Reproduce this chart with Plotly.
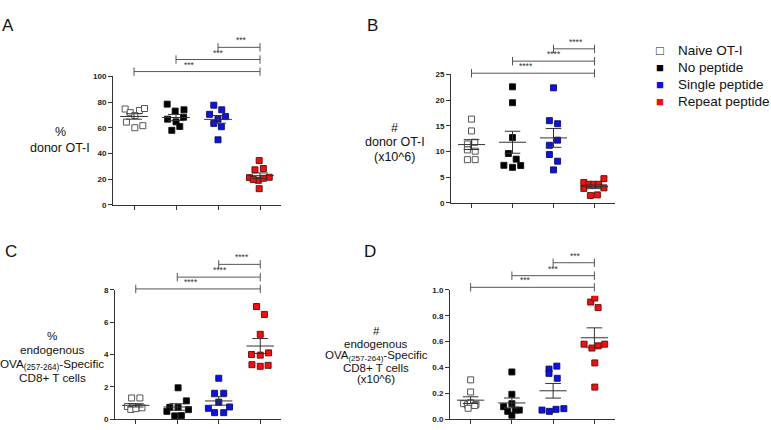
import numpy as np
import plotly.graph_objects as go

W, H = 771, 430

groups = ["Naive OT-I", "No peptide", "Single peptide", "Repeat peptide"]

# values per group (Naive, No peptide, Single, Repeat) and the horizontal scatter of each dot
a_vals = [[74.6, 71.8, 73.5, 75.0, 69.5, 64.4, 60.0, 61.6],
          [78.4, 73.0, 74.0, 66.7, 64.6, 68.2, 58.0, 61.0],
          [77.6, 70.5, 74.0, 68.7, 66.7, 63.4, 60.8, 50.6],
          [34.4, 27.2, 28.2, 21.1, 21.4, 19.0, 20.6, 19.6, 12.5]]
a_jit = [[-0.21, -0.09, 0.13, 0.25, 0.02, -0.18, 0.02, 0.21],
         [-0.21, -0.02, 0.19, -0.20, 0.00, 0.18, -0.10, 0.09],
         [-0.10, -0.20, 0.09, 0.18, 0.00, -0.10, 0.08, 0.00],
         [-0.02, -0.12, 0.08, -0.25, 0.22, -0.04, 0.08, -0.16, -0.02]]

b_vals = [[16.3, 14.0, 11.45, 11.8, 10.3, 10.05, 8.4, 8.4],
          [22.6, 19.5, 12.7, 9.6, 8.5, 7.3, 6.9, 7.25],
          [22.4, 16.0, 15.4, 12.2, 11.2, 9.4, 8.1, 6.4],
          [3.95, 3.6, 3.6, 3.6, 4.7, 2.8, 2.9, 1.4, 1.53]]
b_jit = [[0.0, 0.0, -0.10, 0.08, -0.10, 0.09, -0.10, 0.09],
         [0.0, 0.0, 0.0, -0.10, 0.09, -0.21, 0.0, 0.20],
         [0.0, -0.10, 0.10, 0.10, -0.10, -0.10, 0.10, 0.0],
         [-0.26, -0.14, -0.02, 0.10, 0.23, -0.26, 0.23, -0.10, 0.07]]

c_vals = [[1.31, 1.31, 0.78, 0.75, 0.72, 0.70, 0.60, 0.65],
          [1.94, 1.13, 0.73, 0.73, 0.59, 0.48, 0.20, 0.22],
          [2.53, 1.60, 1.60, 1.05, 0.67, 0.75, 0.40, 0.40],
          [6.97, 6.48, 5.25, 4.00, 3.96, 4.10, 3.37, 3.27, 3.33]]
c_jit = [[-0.10, 0.10, -0.20, -0.07, 0.05, 0.15, -0.12, 0.0],
         [0.02, 0.22, -0.18, 0.02, 0.27, -0.25, -0.06, 0.10],
         [0.0, -0.10, 0.12, 0.0, -0.25, 0.26, -0.10, 0.12],
         [-0.09, 0.10, 0.0, -0.21, 0.0, 0.20, -0.20, 0.0, 0.19]]

d_vals = [[0.304, 0.21, 0.12, 0.11, 0.127, 0.114, 0.084, 0.105],
          [0.365, 0.192, 0.096, 0.119, 0.07, 0.07, 0.06, 0.03],
          [0.41, 0.387, 0.354, 0.316, 0.07, 0.06, 0.076, 0.081],
          [0.906, 0.937, 0.863, 0.58, 0.55, 0.567, 0.58, 0.435, 0.248]]
d_jit = [[0.0, 0.0, -0.17, -0.08, 0.0, 0.13, -0.06, 0.10],
         [0.0, 0.0, -0.20, 0.0, 0.09, 0.18, -0.10, 0.0],
         [0.09, -0.10, -0.10, 0.10, -0.27, -0.09, 0.07, 0.26],
         [-0.09, 0.01, 0.09, -0.25, -0.06, 0.09, 0.25, 0.01, 0.01]]

# significance comparisons (group index pairs) and labels
pairs = [(0, 3), (1, 3), (2, 3)]
a_stars = ["***", "***", "***"]
b_stars = ["****", "****", "****"]
c_stars = ["****", "****", "****"]
d_stars = ["***", "***", "***"]
star_x = [1.32, 2.02, 2.55]  # where the star labels sit along each bracket

a_ticks = [0, 20, 40, 60, 80, 100]
b_ticks = [0, 5, 10, 15, 20, 25]
c_ticks = [0, 2, 4, 6, 8]
d_ticks = [0.0, 0.2, 0.4, 0.6, 0.8, 1.0]

fills = ["white", "black", "#0a10f0", "#ff0a0a"]
edges = ["#444444", "#111111", "#101060", "#501010"]
FONT = "Liberation Sans, Arial, sans-serif"

panels = [
    dict(letter="A", vals=a_vals, jit=a_jit, stars=a_stars, ticks=a_ticks, fmt="",
         xpx=(113, 281), y0=205, ppu=1.31, levels=[103.8, 113.2, 122.7], top=130,
         lx=8, ly=22, tx=60, fs=12.5,
         title=[("%", 131), ("donor OT-I", 147)]),
    dict(letter="B", vals=b_vals, jit=b_jit, stars=b_stars, ticks=b_ticks, fmt="",
         xpx=(451, 615), y0=203, ppu=5.24, levels=[25.25, 27.6, 30.0], top=31.6,
         lx=372, ly=22, tx=395, fs=12.5,
         title=[("#", 127), ("donor OT-I", 141), ("(x10^6)", 156)]),
    dict(letter="C", vals=c_vals, jit=c_jit, stars=c_stars, ticks=c_ticks, fmt="",
         xpx=(115, 281), y0=424, ppu=16.5, levels=[8.06, 8.79, 9.58], top=10.1,
         lx=11, ly=253, tx=52, fs=11.7,
         title=[("%", 339), ("endogenous", 353),
                ("OVA<sub>(257-264)</sub>-Specific", 368), ("CD8+ T cells", 381)]),
    dict(letter="D", vals=d_vals, jit=d_jit, stars=d_stars, ticks=d_ticks, fmt=".1f",
         xpx=(450, 615), y0=424, ppu=132, levels=[1.02, 1.11, 1.21], top=1.27,
         lx=370, ly=253, tx=376, fs=11.5,
         title=[("#", 334), ("endogenous", 347),
                ("OVA<sub>(257-264)</sub>-Specific", 360), ("CD8+ T cells", 372),
                ("(x10^6)", 383)]),
]


def px(x):
    return x / W


def py(y):
    return 1 - y / H


fig = go.Figure()
layout = dict(width=W, height=H, margin=dict(l=0, r=0, t=0, b=0),
              plot_bgcolor="white", paper_bgcolor="white", showlegend=False,
              font=dict(family=FONT, color="#111"))
annotations = []


def ax_id(n):
    return ("x" if n == 1 else f"x{n}"), ("y" if n == 1 else f"y{n}")


for i, p in enumerate(panels):
    n, m = 2 * i + 1, 2 * i + 2
    xa, ya = ax_id(n)
    xb, yb = ax_id(m)
    xdom = [px(p["xpx"][0]), px(p["xpx"][1])]
    ymax = p["ticks"][-1]
    ydom = [py(p["y0"]), py(p["y0"] - ymax * p["ppu"])]
    lo = ymax - 6 / p["ppu"]
    bdom = [py(p["y0"] - lo * p["ppu"]), py(p["y0"] - p["top"] * p["ppu"])]

    layout["xaxis" + ("" if n == 1 else str(n))] = dict(
        domain=xdom, range=[-0.5, 3.5], anchor=ya, showline=True, linecolor="#333",
        linewidth=1, ticks="outside", tickvals=[0, 1, 2, 3], ticklen=4, tickcolor="#333",
        showticklabels=False, showgrid=False, zeroline=False, fixedrange=True)
    layout["yaxis" + ("" if n == 1 else str(n))] = dict(
        domain=ydom, range=[0, ymax], anchor=xa, showline=True, linecolor="#333",
        linewidth=1, ticks="outside", tickvals=p["ticks"], ticklen=4, tickcolor="#333",
        tickformat=p["fmt"], tickfont=dict(size=8, weight="bold", color="#222"),
        showgrid=False, zeroline=False, fixedrange=True)
    layout[f"xaxis{m}"] = dict(domain=xdom, range=[-0.5, 3.5], anchor=yb, visible=False,
                               fixedrange=True)
    layout[f"yaxis{m}"] = dict(domain=bdom, range=[lo, p["top"]], anchor=xb, visible=False,
                               fixedrange=True)

    # dots
    for g in range(4):
        vals = p["vals"][g]
        fig.add_trace(go.Scatter(
            x=[g + d for d in p["jit"][g]], y=vals, mode="markers", xaxis=xa, yaxis=ya,
            cliponaxis=False, hoverinfo="y",
            marker=dict(symbol="square", size=6, color=fills[g],
                        line=dict(color=edges[g], width=0.9))))
    # mean +/- SEM
    for g in range(4):
        vals = np.array(p["vals"][g])
        mu = vals.mean()
        se = vals.std(ddof=1) / np.sqrt(len(vals))
        fig.add_trace(go.Scatter(
            x=[g - 0.33, g + 0.33, None, g - 0.19, g + 0.19, None,
               g - 0.19, g + 0.19, None, g, g],
            y=[mu, mu, None, mu + se, mu + se, None, mu - se, mu - se, None,
               mu - se, mu + se],
            mode="lines", xaxis=xa, yaxis=ya, cliponaxis=False, hoverinfo="skip",
            line=dict(color="#333", width=1)))
    # significance brackets
    for (a, b), lev, s, sx in zip(pairs, p["levels"], p["stars"], star_x):
        fig.add_trace(go.Scatter(
            x=[a, b], y=[lev, lev], mode="lines+markers", xaxis=xb, yaxis=yb,
            cliponaxis=False, hoverinfo="skip",
            line=dict(color="#555", width=1),
            marker=dict(symbol="line-ns", size=6, line=dict(color="#555", width=1))))
        annotations.append(dict(
            x=sx, y=lev, xref=xb, yref=yb, text=s, showarrow=False,
            yanchor="bottom", font=dict(size=8.5, color="#333")))

    annotations.append(dict(x=px(p["lx"]), y=py(p["ly"]), xref="paper", yref="paper",
                            text=p["letter"], showarrow=False, xanchor="center",
                            yanchor="middle", font=dict(size=17, color="#111")))
    for txt, ty in p["title"]:
        annotations.append(dict(x=px(p["tx"]), y=py(ty), xref="paper", yref="paper",
                                text=txt, showarrow=False, xanchor="center",
                                yanchor="middle", font=dict(size=p["fs"], color="#111")))

# legend drawn as text rows
leg_y = [47, 64.5, 82, 100]
marks = ["□", "■", "■", "■"]
for g in range(4):
    annotations.append(dict(x=px(660), y=py(leg_y[g]), xref="paper", yref="paper",
                            text=marks[g], showarrow=False, xanchor="center",
                            yanchor="middle",
                            font=dict(size=13, color="#111" if g == 0 else fills[g])))
    annotations.append(dict(x=px(676), y=py(leg_y[g]), xref="paper", yref="paper",
                            text=groups[g], showarrow=False, xanchor="left",
                            yanchor="middle", font=dict(size=13.5, color="#111")))

layout["annotations"] = annotations
fig.update_layout(**layout)
# the page's default body margin would push the figure 8px in; drop it
fig.write_html("out.html", config={"displayModeBar": False, "staticPlot": True},
               post_script="document.body.style.margin='0px';"
                           "document.body.style.overflow='hidden';")
